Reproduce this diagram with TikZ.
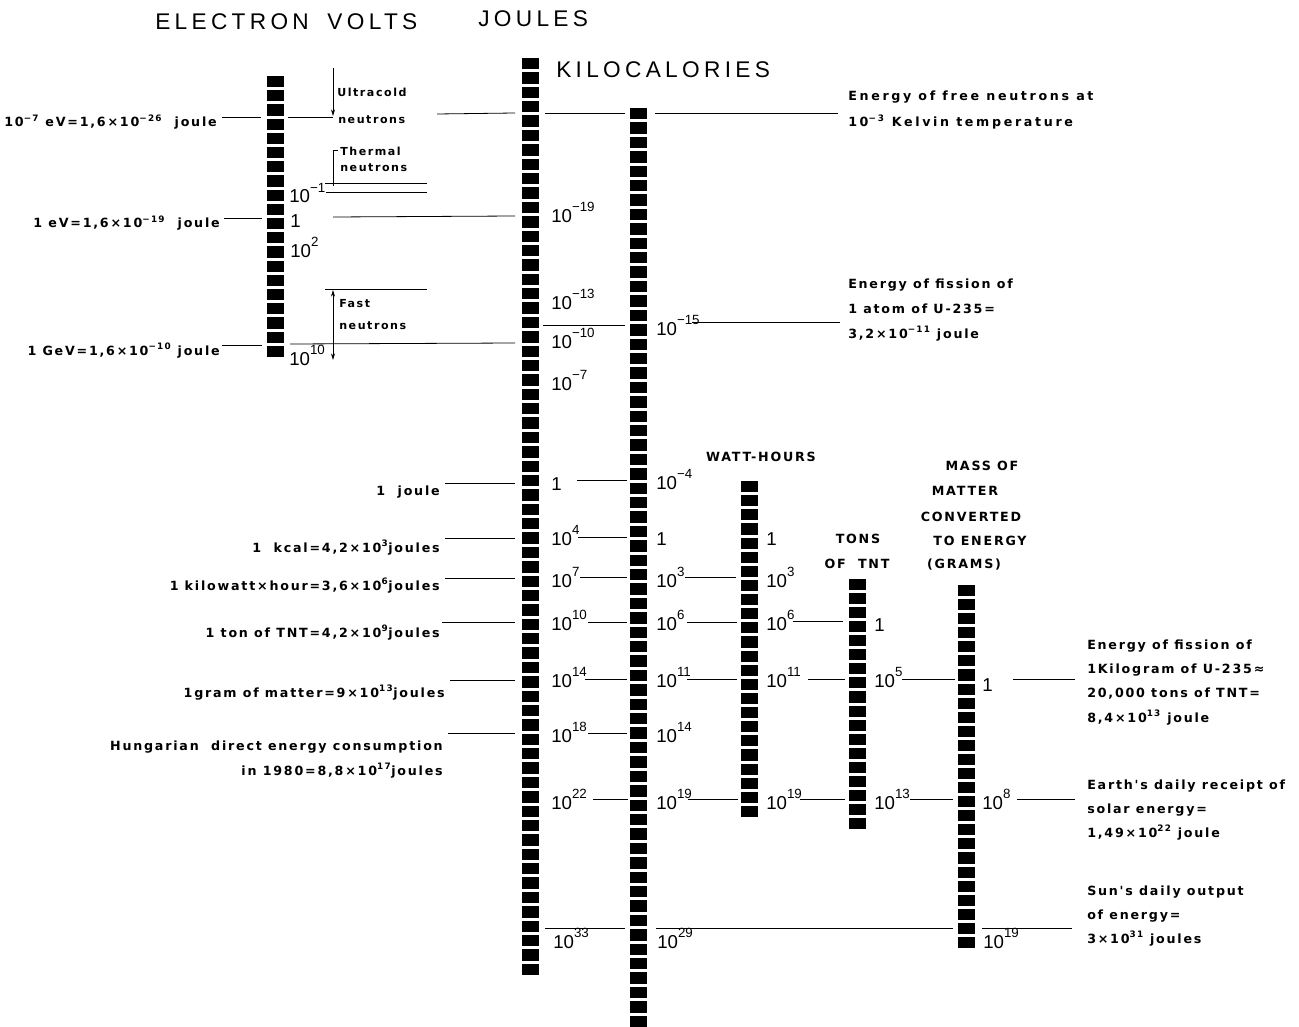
\documentclass[tikz,border=0pt]{standalone}
\usepackage{fontspec}
\setmainfont{Liberation Sans}
\newfontfamily\annf[LetterSpace=14]{DejaVu Sans}
\newfontfamily\annw[LetterSpace=21]{DejaVu Sans}
\newfontfamily\numf{Liberation Sans}
\newfontfamily\ttlf[LetterSpace=19]{Liberation Sans}
\usetikzlibrary{arrows.meta}
\newcommand\tpow[1]{10\raisebox{0.55em}{\fontsize{10}{10}\selectfont #1}}
\newcommand\segbar[5]{%
  \node[inner sep=0, minimum width=12.75pt, minimum height={(#4-#3)*0.75pt}, anchor=north west] (#1) at (#2,#3) {};
  \pgfmathsetmacro\segp{(#4-#3+3)/#5}
  \foreach \i in {1,...,#5} {\fill (#2,{#3+(\i-1)*\segp}) rectangle ++(17,{\segp-3});}
}
\tikzset{
  ann/.style={font=\annf\bfseries\fontsize{9.5}{11}\selectfont, inner sep=0},
  annwide/.style={font=\annw\bfseries\fontsize{9.5}{11}\selectfont, inner sep=0},
  sml/.style={font=\annf\bfseries\fontsize{8.3}{10}\selectfont, inner sep=0, anchor=base west},
  num/.style={font=\numf\fontsize{14}{16}\selectfont, inner sep=0, anchor=base west},
  ttl/.style={font=\ttlf\fontsize{17}{20}\selectfont, inner sep=0, anchor=base west},
  ln/.style={line width=0.6pt},
}
\begin{document}
\begin{tikzpicture}[x=0.75pt,y=-0.75pt]
\fill[white] (0,0) rectangle (1299,1027);
\useasboundingbox (0,0) rectangle (1299,1027);

% titles
\node[ttl] (tev) at (155,30) {ELECTRON\hspace{6pt} VOLTS};
\node[ttl] (tjl) at (478,27) {JOULES};
\node[ttl] (tkc) at (556,78) {KILOCALORIES};
\node[ann, anchor=base] (twh) at (761,461) {WATT-HOURS};
\node[ann, anchor=base] (tt1) at (858,543) {TONS};
\node[ann, anchor=base] (tt2) at (857,568) {OF\ \ TNT};
\node[ann, anchor=base] (tm1) at (982,470) {MASS OF};
\node[ann, anchor=base] (tm2) at (965,495) {MATTER};
\node[ann, anchor=base] (tm3) at (971,521) {CONVERTED};
\node[ann, anchor=base] (tm4) at (980,545) {TO ENERGY};
\node[ann, anchor=base] (tm5) at (964,568) {(GRAMS)};

% bars
\segbar{ev}{267}{76}{357}{20}
\segbar{jl}{522}{58}{975}{64}
\segbar{kc}{630}{108}{1027}{64}
\segbar{wh}{741}{481}{817}{24}
\segbar{tnt}{849}{579}{829}{18}
\segbar{ms}{958}{585}{948}{26}

% left annotations
\node[ann, anchor=base east] (a1) at (217,127) {10\textsuperscript{−7} eV=1,6×10\textsuperscript{−26}\ \ joule};
\node[ann, anchor=base east] (a2) at (220,228) {1 eV=1,6×10\textsuperscript{−19}\ \ joule};
\node[ann, anchor=base east] (a3) at (220,355) {1 GeV=1,6×10\textsuperscript{−10} joule};
\node[ann, anchor=base east] (a4) at (440,495) {1\ \ joule};
\node[ann, anchor=base east] (a5) at (440,552) {1\ \ kcal=4,2×10\textsuperscript{3}joules};
\node[ann, anchor=base east] (a6) at (440,590) {1 kilowatt×hour=3,6×10\textsuperscript{6}joules};
\node[ann, anchor=base east] (a7) at (440,637) {1 ton of TNT=4,2×10\textsuperscript{9}joules};
\node[ann, anchor=base east] (a8) at (445,697) {1gram of matter=9×10\textsuperscript{13}joules};
\node[ann, anchor=base east] (a9) at (443,750) {Hungarian\ \ direct energy consumption};
\node[ann, anchor=base east] (a10) at (443,775) {in 1980=8,8×10\textsuperscript{17}joules};

% right annotations
\node[annwide, anchor=base west] (r1) at (848,101) {Energy of free neutrons at};
\node[annwide, anchor=base west] (r2) at (848,127) {10\textsuperscript{−3} Kelvin temperature};
\node[ann, anchor=base west] (r3) at (848,288) {Energy of fission of};
\node[ann, anchor=base west] (r4) at (848,313) {1 atom of U-235=};
\node[ann, anchor=base west] (r5) at (848,338) {3,2×10\textsuperscript{−11} joule};
\node[ann, anchor=base west] (r6) at (1087,649) {Energy of fission of};
\node[ann, anchor=base west] (r7) at (1087,673) {1Kilogram of U-235≈};
\node[ann, anchor=base west] (r8) at (1087,697) {20,000 tons of TNT=};
\node[ann, anchor=base west] (r9) at (1087,722) {8,4×10\textsuperscript{13} joule};
\node[ann, anchor=base west] (r10) at (1087,789) {Earth's daily receipt of};
\node[ann, anchor=base west] (r11) at (1087,813) {solar energy=};
\node[ann, anchor=base west] (r12) at (1087,837) {1,49×10\textsuperscript{22} joule};
\node[ann, anchor=base west] (r13) at (1087,895) {Sun's daily output};
\node[ann, anchor=base west] (r14) at (1087,919) {of energy=};
\node[ann, anchor=base west] (r15) at (1087,943) {3×10\textsuperscript{31} joules};

% neutron labels
\node[sml] (u1) at (337,97) {Ultracold};
\node[sml] (u2) at (338,124) {neutrons};
\node[sml] (th1) at (340,156) {Thermal};
\node[sml] (th2) at (340,172) {neutrons};
\node[sml] (f1) at (339,307) {Fast};
\node[sml] (f2) at (339,329) {neutrons};

% eV bar numbers
\node[num] (e1) at (289,203) {\tpow{−1}};
\node[num] (e2) at (290,227) {1};
\node[num] (e3) at (290,257) {\tpow{2}};
\node[num] (e4) at (289,365) {\tpow{10}};

% joule numbers
\node[num] (j1) at (551,222) {\tpow{−19}};
\node[num] (j2) at (551,309) {\tpow{−13}};
\node[num] (j3) at (551,348) {\tpow{−10}};
\node[num] (j4) at (551,390) {\tpow{−7}};
\node[num] (j5) at (551,490) {1};
\node[num] (j6) at (551,545) {\tpow{4}};
\node[num] (j7) at (551,587) {\tpow{7}};
\node[num] (j8) at (551,630) {\tpow{10}};
\node[num] (j9) at (551,687) {\tpow{14}};
\node[num] (j10) at (551,742) {\tpow{18}};
\node[num] (j11) at (551,809) {\tpow{22}};
\node[num] (j12) at (553,948) {\tpow{33}};

% kcal numbers
\node[num] (k1) at (656,335) {\tpow{−15}};
\node[num] (k2) at (656,489) {\tpow{−4}};
\node[num] (k3) at (656,545) {1};
\node[num] (k4) at (656,587) {\tpow{3}};
\node[num] (k5) at (656,630) {\tpow{6}};
\node[num] (k6) at (656,687) {\tpow{11}};
\node[num] (k7) at (656,742) {\tpow{14}};
\node[num] (k8) at (656,809) {\tpow{19}};
\node[num] (k9) at (657,948) {\tpow{29}};

% watt-hour numbers
\node[num] (w1) at (766,545) {1};
\node[num] (w2) at (766,587) {\tpow{3}};
\node[num] (w3) at (766,630) {\tpow{6}};
\node[num] (w4) at (766,687) {\tpow{11}};
\node[num] (w5) at (766,809) {\tpow{19}};

% TNT numbers
\node[num] (t1) at (874,631) {1};
\node[num] (t2) at (874,687) {\tpow{5}};
\node[num] (t3) at (874,809) {\tpow{13}};

% mass numbers
\node[num] (m1) at (982,691) {1};
\node[num] (m2) at (982,809) {\tpow{8}};
\node[num] (m3) at (983,948) {\tpow{19}};

% connector lines
\begin{scope}[ln]
\draw (222,117) -- (261,117);
\draw (288,117) -- (333,117);
\draw (437,114) -- (515,113);
\draw (545,113) -- (625,113);
\draw (655,113) -- (838,113);
\draw (224,218) -- (262,218);
\draw (333,217) -- (515,216);
\draw (325,183) -- (427,183);
\draw (326,192) -- (427,192);
\draw (325,289) -- (427,289);
\draw (222,345) -- (262,345);
\draw (290,344) -- (515,343);
\draw (543,325) -- (625,325);
\draw (692,322) -- (840,322);
\draw (445,483) -- (515,483);
\draw (577,480) -- (627,480);
\draw (445,538) -- (515,538);
\draw (578,537) -- (627,537);
\draw (445,578) -- (515,578);
\draw (580,577) -- (627,577);
\draw (685,577) -- (736,577);
\draw (442,622) -- (515,622);
\draw (588,622) -- (627,622);
\draw (687,622) -- (737,622);
\draw (793,621) -- (843,621);
\draw (450,680) -- (515,680);
\draw (585,679) -- (627,679);
\draw (687,679) -- (737,679);
\draw (808,679) -- (845,679);
\draw (902,679) -- (955,679);
\draw (1013,679) -- (1075,679);
\draw (448,733) -- (515,733);
\draw (588,733) -- (627,733);
\draw (593,799) -- (628,799);
\draw (688,799) -- (738,799);
\draw (800,799) -- (845,799);
\draw (910,799) -- (953,799);
\draw (1017,799) -- (1075,799);
\draw (545,928) -- (625,928);
\draw (656,928) -- (953,928);
\draw (982,928) -- (1072,928);
% arrows
\draw[-{Stealth[length=5pt,width=3pt]}] (333,68) -- (333,116);
\draw (338,150) -- (333,150) -- (333,186);
\draw[{Stealth[length=5pt,width=3pt]}-{Stealth[length=5pt,width=3pt]}] (333,290) -- (333,360);
\end{scope}
\end{tikzpicture}
\end{document}
